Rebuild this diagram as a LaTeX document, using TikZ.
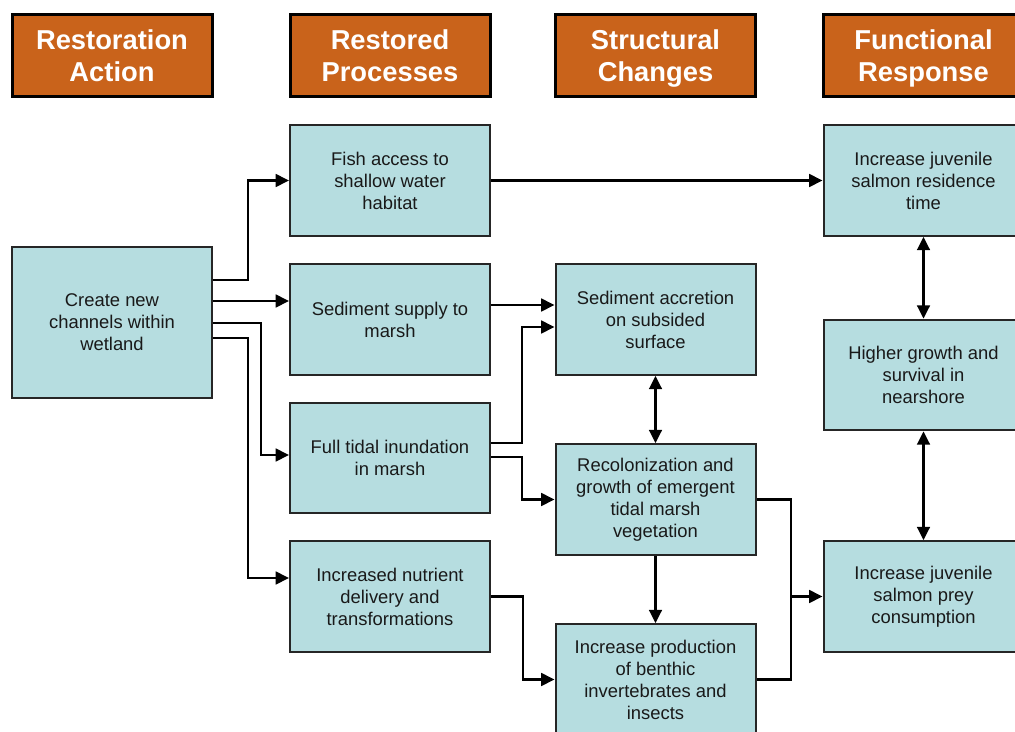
\documentclass[tikz,border=0pt]{standalone}
\usepackage{fontspec}
\setmainfont{Liberation Sans}
\usepackage{tikz}
\usetikzlibrary{arrows.meta}
\definecolor{hdrorange}{RGB}{201,99,27}
\definecolor{boxblue}{RGB}{182,221,224}

\begin{document}
\begin{tikzpicture}[x=0.75pt,y=-0.75pt,
  >={Triangle[length=10pt,width=9.5pt]},
  hdr/.style={draw=black,line width=2.25pt,fill=hdrorange,text=white,
    minimum width=150pt,minimum height=62pt,inner sep=0pt,align=center,
    font=\fontsize{20.5}{24}\selectfont\bfseries,text depth=0pt},
  box/.style={draw=black!85,line width=1.5pt,fill=boxblue,text=black!90,
    minimum width=150pt,minimum height=83pt,inner sep=0pt,align=center,
    font=\fontsize{13.8}{16.5}\selectfont},
  link/.style={line width=2pt}]
\useasboundingbox (0,0) rectangle (1015,732);
\fill[white] (0,0) rectangle (1015,732);
\clip (0,0) rectangle (1015,732);

\node[hdr] (h1) at (112,55.5) {Restoration\\Action};
\node[hdr] (h2) at (390,55.5) {Restored\\Processes};
\node[hdr] (h3) at (655.5,55.5) {Structural\\Changes};
\node[hdr] (h4) at (923.5,55.5) {Functional\\Response};

\node[box,minimum height=113pt] (A) at (112,322.5) {Create new\\channels within\\wetland};

\node[box] (P1) at (390,180.5) {Fish access to\\shallow water\\habitat};
\node[box] (P2) at (390,319.5) {Sediment supply to\\marsh};
\node[box] (P3) at (390,458) {Full tidal inundation\\in marsh};
\node[box] (P4) at (390,596.5) {Increased nutrient\\delivery and\\transformations};

\node[box] (S1) at (655.5,319.5) {Sediment accretion\\on subsided\\surface};
\node[box] (S2) at (655.5,499.5) {Recolonization and\\growth of emergent\\tidal marsh\\vegetation};
\node[box] (S3) at (655.5,679.5) {Increase production\\of benthic\\invertebrates and\\insects};

\node[box] (F1) at (923.5,180.5) {Increase juvenile\\salmon residence\\time};
\node[box] (F2) at (923.5,375) {Higher growth and\\survival in\\nearshore};
\node[box] (F3) at (923.5,596.5) {Increase juvenile\\salmon prey\\consumption};

\coordinate (join) at (791,596.5);

\draw[link,->] (A.east |- 0,280) -- (248,280) |- (P1.west);
\draw[link,->] (A.east |- 0,301) -- (P2.west |- 0,301);
\draw[link,->] (A.east |- 0,323) -- (261,323) |- (P3.west |- 0,455);
\draw[link,->] (A.east |- 0,338) -- (248,338) |- (P4.west |- 0,578);

\draw[link,->] (P1.east) -- (F1.west);
\draw[link,->] (P2.east |- 0,305) -- (S1.west |- 0,305);
\draw[link,->] (P3.east |- 0,443) -- (522,443) |- (S1.west |- 0,327);
\draw[link,->] (P3.east |- 0,457) -- (522,457) |- (S2.west);
\draw[link,->] (P4.east) -- (523,596.5) |- (S3.west);

\draw[link,<->] (S1.south) -- (S2.north);
\draw[link,->] (S2.south) -- (S3.north);
\draw[link] (S2.east) -| (join);
\draw[link] (S3.east) -| (join);
\draw[link,->] (join) -- (F3.west);

\draw[link,<->] (F1.south) -- (F2.north);
\draw[link,<->] (F2.south) -- (F3.north);
\end{tikzpicture}
\end{document}
